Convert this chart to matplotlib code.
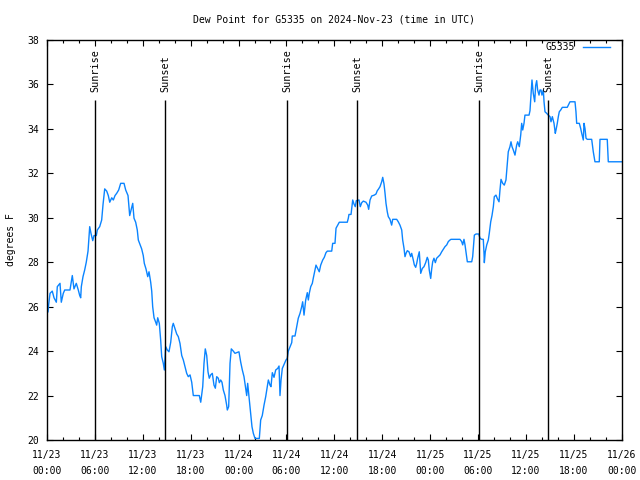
import matplotlib
matplotlib.use("Agg")
import matplotlib.pyplot as plt
from matplotlib.ticker import MultipleLocator

plt.rcParams['font.family'] = ['DejaVu Sans Mono']

title = "Dew Point for G5335 on 2024-Nov-23 (time in UTC)"
ylabel = "degrees F"
series_name = "G5335"

# hours since 2024-11-23 00:00 UTC
hours = [0.13, 0.21, 0.38, 0.66, 0.88, 1.17, 1.29, 1.63, 1.79, 2.04, 2.22, 2.88, 3.04, 3.17, 3.38, 3.67,
         3.92, 4.10, 4.22, 4.30, 4.51, 4.72, 4.92, 5.14, 5.26, 5.35, 5.51, 5.73, 5.89, 6.18, 6.30, 6.60,
         6.85, 7.02, 7.23, 7.48, 7.68, 7.86, 8.11, 8.31, 8.52, 8.73, 8.98, 9.23, 9.65, 9.86, 10.15, 10.36,
         10.56, 10.74, 10.90, 11.11, 11.31, 11.44, 11.86, 12.06, 12.19, 12.40, 12.62, 12.78, 12.99, 13.12,
         13.24, 13.41, 13.62, 13.74, 13.87, 14.07, 14.24, 14.37, 14.57, 14.70, 14.87, 15.07, 15.28, 15.50,
         15.70, 15.82, 16.04, 16.25, 16.45, 16.66, 16.88, 17.08, 17.29, 17.50, 17.70, 17.92, 18.13, 18.33,
         19.08, 19.26, 19.51, 19.67, 19.83, 20.01, 20.17, 20.33, 20.51, 20.71, 20.92, 21.09, 21.26, 21.46,
         21.59, 21.76, 21.92, 22.09, 22.30, 22.51, 22.59, 22.76, 22.93, 23.09, 23.34, 23.55, 24.05, 24.27,
         24.47, 24.68, 24.89, 25.02, 25.14, 25.31, 25.52, 25.68, 25.85, 26.06, 26.60, 26.77, 26.97, 27.19,
         27.40, 27.60, 27.73, 27.94, 28.06, 28.23, 28.44, 28.65, 28.90, 29.07, 29.19, 29.32, 29.48, 29.73,
         29.94, 30.10, 30.23, 30.66, 30.73, 31.07, 31.28, 31.48, 31.70, 31.91, 32.03, 32.20, 32.41, 32.61,
         32.74, 32.86, 33.04, 33.24, 33.36, 33.49, 33.70, 33.91, 34.11, 34.29, 34.54, 34.74, 34.95, 35.12,
         35.67, 35.79, 36.08, 36.21, 36.42, 36.62, 37.62, 37.75, 37.83, 38.09, 38.21, 38.30, 38.46, 38.62,
         38.75, 39.09, 39.25, 39.43, 39.63, 39.96, 40.18, 40.30, 40.47, 40.68, 41.00, 41.22, 41.38, 41.51,
         41.72, 41.93, 42.06, 42.22, 42.35, 42.47, 42.63, 42.76, 42.97, 43.18, 43.31, 43.81, 44.01, 44.22,
         44.44, 44.56, 44.73, 44.85, 44.98, 45.14, 45.35, 45.56, 45.69, 45.89, 46.02, 46.19, 46.32, 46.44,
         46.64, 46.73, 46.82, 47.02, 47.23, 47.44, 47.64, 47.77, 47.89, 48.07, 48.19, 48.32, 48.48, 48.65,
         48.82, 49.02, 49.24, 49.45, 49.65, 49.86, 50.08, 50.28, 50.49, 50.61, 51.74, 51.95, 52.08, 52.24,
         52.37, 52.49, 52.66, 53.21, 53.33, 53.50, 53.54, 53.75, 54.09, 54.25, 54.46, 54.66, 54.75, 54.79,
         54.91, 55.09, 55.29, 55.41, 55.59, 55.75, 55.92, 56.04, 56.25, 56.41, 56.63, 56.75, 56.88, 57.09,
         57.29, 57.50, 57.67, 57.79, 58.00, 58.13, 58.26, 58.42, 58.63, 58.84, 58.97, 59.17, 59.35, 59.47,
         59.60, 59.76, 59.88, 60.39, 60.51, 60.64, 60.76, 60.92, 61.10, 61.22, 61.35, 61.47, 61.64, 61.76,
         61.89, 62.01, 62.18, 62.27, 62.39, 62.60, 62.80, 63.02, 63.14, 63.31, 63.52, 63.68, 63.77, 63.93,
         64.06, 64.18, 64.36, 64.56, 65.18, 65.31, 65.52, 66.15, 66.27, 66.36, 66.69, 66.86, 66.99, 67.19,
         67.28, 67.40, 67.53, 67.69, 68.24, 68.44, 68.57, 68.65, 69.19, 69.28, 70.19, 70.32, 71.95]

dewpoint = [25.77, 26.1, 26.6, 26.7, 26.4, 26.2, 26.9, 27.05, 26.2, 26.6, 26.75, 26.75, 27.1, 27.4, 26.8, 27.05,
            26.75, 26.5, 26.4, 26.9, 27.35, 27.65, 28.0, 28.5, 29.1, 29.6, 29.3, 28.97, 29.2, 29.2, 29.45, 29.6,
            29.9, 30.6, 31.3, 31.2, 31.0, 30.7, 30.9, 30.8, 31.0, 31.1, 31.25, 31.55, 31.55, 31.25, 31.0, 30.1,
            30.4, 30.65, 29.98, 29.8, 29.45, 29.0, 28.6, 28.3, 27.95, 27.7, 27.35, 27.57, 27.1, 26.7,
            26.0, 25.5, 25.3, 25.17, 25.5, 25.25, 24.5, 23.75, 23.45, 23.15, 24.2, 24.05, 23.97, 24.4,
            25.1, 25.25, 25.0, 24.77, 24.65, 24.35, 23.8, 23.6, 23.3, 23.0, 22.85, 22.93, 22.6, 22.0,
            22.0, 21.7, 22.4, 23.45, 24.1, 23.8, 23.07, 22.78, 22.93, 23.0, 22.47, 22.33, 22.85, 22.78,
            22.58, 22.7, 22.6, 22.25, 22.0, 21.57, 21.35, 21.5, 23.45, 24.1, 24.0, 23.9, 23.97, 23.5,
            23.15, 22.85, 22.33, 22.0, 22.55, 21.95, 21.2, 20.6, 20.3, 20.07, 20.07, 20.9, 21.1, 21.57,
            21.95, 22.4, 22.7, 22.47, 22.4, 23.03, 22.82, 23.15, 23.22, 23.33, 22.0, 22.7, 23.22, 23.42,
            23.6, 23.67, 24.0, 24.38, 24.68, 24.68, 25.1, 25.48, 25.7, 26.0, 26.22, 25.62, 26.3, 26.63,
            26.3, 26.6, 26.9, 27.05, 27.28, 27.5, 27.87, 27.72, 27.57, 27.87, 28.1, 28.22, 28.43, 28.5,
            28.5, 28.85, 28.85, 29.53, 29.67, 29.8, 29.8, 29.98, 30.15, 30.15, 30.5, 30.8, 30.62, 30.5,
            30.77, 30.8, 30.5, 30.68, 30.75, 30.7, 30.57, 30.38, 30.8, 30.98, 31.02, 31.07, 31.22, 31.28,
            31.4, 31.62, 31.82, 31.52, 31.1, 30.65, 30.27, 30.05, 29.93, 29.67, 29.93, 29.93, 29.82, 29.67,
            29.45, 29.0, 28.62, 28.25, 28.4, 28.52, 28.47, 28.25, 28.4, 28.1, 27.88, 27.77, 27.95, 28.18,
            28.47, 27.95, 27.5, 27.72, 27.8, 27.98, 28.22, 28.1, 27.65, 27.27, 27.68, 28.02, 28.18, 27.98,
            28.18, 28.25, 28.33, 28.47, 28.58, 28.7, 28.78, 28.93, 29.0, 29.03, 29.03, 28.93, 28.78, 29.03,
            28.78, 28.47, 28.02, 28.02, 28.25, 29.08, 29.22, 29.27, 29.27, 29.08, 29.03, 29.03, 28.4, 27.98,
            28.47, 28.78, 29.0, 29.3, 29.82, 30.1, 30.5, 30.95, 31.02, 30.87, 30.72, 31.25, 31.73, 31.55,
            31.47, 31.7, 32.45, 32.97, 33.2, 33.42, 33.2, 33.05, 32.82, 33.27, 33.42, 33.2, 33.73, 34.25,
            33.95, 34.25, 34.62, 34.62, 34.82, 35.52, 36.2, 35.6, 35.22, 35.95, 36.17, 35.75, 35.52, 35.75,
            35.75, 35.52, 35.75, 35.22, 34.77, 34.7, 34.62, 34.55, 34.32, 34.55, 34.25, 33.8, 33.95, 34.25,
            34.55, 34.77, 34.85, 34.97, 34.97, 35.07, 35.22, 35.22, 34.77, 34.25, 34.25, 34.02, 33.8, 33.5,
            34.25, 34.02, 33.58, 33.53, 33.53, 32.97, 32.68, 32.52, 32.52, 33.53, 33.53, 32.52, 32.52]

sun_events = ["Sunrise", "Sunset", "Sunrise", "Sunset", "Sunrise", "Sunset"]
sun_hours = [6.02, 14.83, 30.08, 38.85, 54.15, 62.80]
sun_line_top = 35.3

xtick_hours = [0, 6, 12, 18, 24, 30, 36, 42, 48, 54, 60, 66, 72]
xtick_labels = ["11/23\n00:00", "11/23\n06:00", "11/23\n12:00", "11/23\n18:00",
                "11/24\n00:00", "11/24\n06:00", "11/24\n12:00", "11/24\n18:00",
                "11/25\n00:00", "11/25\n06:00", "11/25\n12:00", "11/25\n18:00",
                "11/26\n00:00"]

fig = plt.figure(figsize=(6.4, 4.8), dpi=100)
ax = fig.add_axes([47/640, 1 - 440/480, (621.7 - 47)/640, 400/480])

ax.plot(hours, dewpoint, color='#0a84ff', lw=1.0, label=series_name)

for name, h in zip(sun_events, sun_hours):
    ax.vlines(h, 20, sun_line_top, color='black', lw=1.0)
    ax.text(h, sun_line_top + 0.35, name, rotation=90, ha='center', va='bottom', fontsize=7.3)

ax.set_xlim(0, 72)
ax.set_ylim(20, 38)
ax.set_xticks(xtick_hours)
ax.set_xticklabels(xtick_labels)
for t in ax.get_xticklabels():
    t.set_linespacing(1.65)
ax.xaxis.set_minor_locator(MultipleLocator(2))
ax.yaxis.set_major_locator(MultipleLocator(2))

ax.tick_params(which='both', direction='in', top=True, right=True, labelsize=7, width=0.8, color='black')
ax.tick_params(axis='x', which='major', length=4.5, pad=7.5)
ax.tick_params(axis='x', which='minor', length=2.5)
ax.tick_params(axis='y', which='major', length=4, pad=6)
for s in ax.spines.values():
    s.set_linewidth(1.0)

ax.set_ylabel(ylabel, fontsize=7, labelpad=8)
fig.text(334/640, 1 - 19/480, title, ha='center', va='center', fontsize=7)

ax.legend(loc='upper right', bbox_to_anchor=(0.983, 1.0), frameon=False, markerfirst=False, fontsize=7,
          handlelength=2.8, borderaxespad=0.0, borderpad=0.2, handletextpad=0.8)

fig.savefig("out.png", dpi=100)
